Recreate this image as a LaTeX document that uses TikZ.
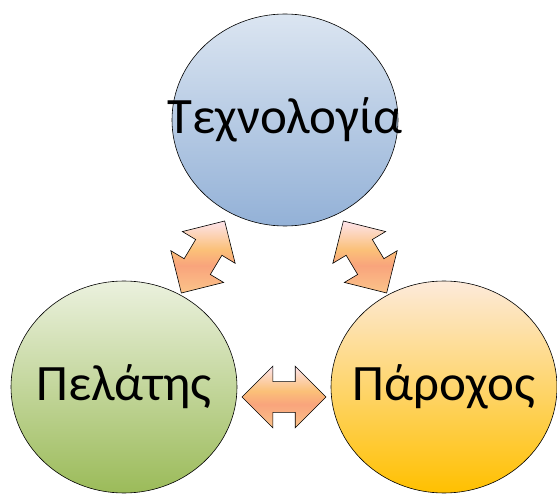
\documentclass[tikz,border=0pt]{standalone}
\usepackage{fontspec}
\setmainfont{Carlito}
\usetikzlibrary{shapes}
\usetikzlibrary{arrows}
\usetikzlibrary{positioning}
\usetikzlibrary{calc}
\definecolor{bleuhaut}{HTML}{DBE5F1}
\definecolor{bleubas}{HTML}{93B1D7}
\definecolor{verthaut}{HTML}{EBF1DE}
\definecolor{vertbas}{HTML}{9BBB59}
\definecolor{orhaut}{HTML}{FDEADA}
\definecolor{orbas}{HTML}{FFC000}
\definecolor{flecherose}{HTML}{FDE4EC}
\definecolor{flecheor}{HTML}{FBC078}
\definecolor{flechesaumon}{HTML}{F9A47C}
\definecolor{flechepeche}{HTML}{FBC48A}
\pgfdeclareverticalshading{flecheombre}{100bp}{color(0bp)=(flechepeche); color(25bp)=(flechepeche); color(44bp)=(flechesaumon); color(55bp)=(flecheor); color(75bp)=(flecherose); color(100bp)=(flecherose)}
\tikzstyle{bulle}=[
        ellipse,
        draw,
        line width=0.6pt,
        inner sep=0pt,
        minimum width=226pt,
        minimum height=212pt,
        label={[font=\fontsize{51}{55}\selectfont]center:#1}
]
\tikzstyle{fleche}=[
        double arrow,
        draw,
        line width=0.6pt,
        inner xsep=0pt,
        inner ysep=15pt,
        minimum height=84pt,
        double arrow head extend=15.5pt,
        shading=flecheombre
]
\begin{document}
\begin{tikzpicture}[x=1pt,y=1pt]
\useasboundingbox (0,0) rectangle (557,493);
\node[bulle=Τεχνολογία, top color=bleuhaut, bottom color=bleubas] (techno) at (285,373) {};
\node[bulle=Πελάτης, top color=verthaut, bottom color=vertbas] (client) at (124,106) {};
\node[bulle=Πάροχος, top color=orhaut, bottom color=orbas] (pourvoyeur) at (444,106) {};
%Placementdesflèches
\node[fleche, rotate=59] (f1) at (203,236) {};
\node[fleche, rotate=-59] (f2) at (365,236) {};
\node[fleche] (f3) at (284,96) {};
\end{tikzpicture}
\end{document}
